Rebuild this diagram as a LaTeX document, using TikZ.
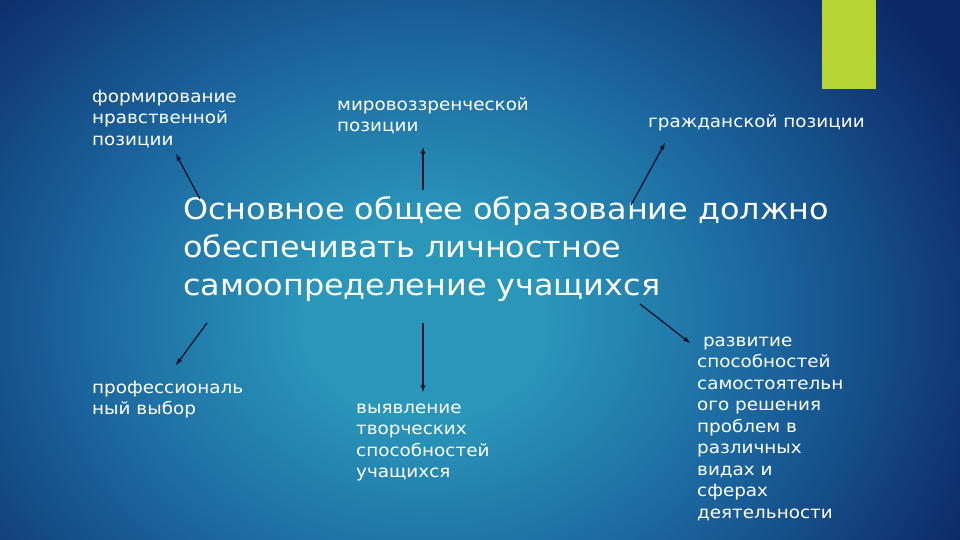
\documentclass[tikz,border=0pt]{standalone}
\usepackage{fontspec}
\setmainfont{DejaVu Sans}[FakeStretch=1.08]
\usepackage{tikz}
\usepackage{xcolor}
\usetikzlibrary{calc}
\usetikzlibrary{positioning}

\definecolor{bgin}{RGB}{42,150,186}
\definecolor{bgmid}{RGB}{28,104,160}
\definecolor{bgout}{RGB}{12,40,102}
\definecolor{barlime}{RGB}{182,212,52}
\definecolor{arrowink}{RGB}{12,20,45}
\pgfdeclareradialshading{slidebg}{\pgfpoint{0bp}{0bp}}{color(0bp)=(bgin); color(4bp)=(bgin); color(11bp)=(bgmid); color(20bp)=(bgout); color(50bp)=(bgout)}

\begin{document}
\begin{tikzpicture}[x=1pt,y=-1pt,
  lbl/.style={text=white,align=left,anchor=north west,inner sep=0pt,font=\fontsize{17}{21.5}\selectfont},
  ttl/.style={text=white,align=left,anchor=north west,inner sep=0pt,font=\fontsize{29.5}{38}\selectfont},
  arr/.style={draw=arrowink,line width=1.3pt,-latex}]
\useasboundingbox (0,0) rectangle (960,540);

% background
\begin{scope}
\clip (0,0) rectangle (960,540);
\fill[bgout] (0,0) rectangle (960,540);
\fill[shading=slidebg] (425,320) ellipse [x radius=760pt, y radius=620pt];
\end{scope}
\fill[barlime] (822,0) rectangle (876,89);

% title
\node[ttl] (title) at (183,193) {\strut Основное общее образование должно\\обеспечивать личностное\\самоопределение учащихся};

% labels
\node[lbl] (nrav) at (92,87) {\strut формирование\\нравственной\\позиции};
\node[lbl] (mir) at (337,95) {\strut мировоззренческой\\позиции};
\node[lbl] (grazh) at (648,112) {\strut гражданской позиции};
\node[lbl] (prof) at (92,378) {\strut профессиональ\\ный выбор};
\node[lbl] (tvor) at (356,398) {\strut выявление\\творческих\\способностей\\учащихся};
\node[lbl] (razv) at (697,331) {\strut\ развитие\\способностей\\самостоятельн\\ого решения\\проблем в\\различных\\видах и\\сферах\\деятельности};

% arrows
\coordinate (t1) at (200,199);
\coordinate (h1) at (176,154);
\coordinate (t2) at (423,190);
\coordinate (h2) at (423,147);
\coordinate (t3) at (631,205);
\coordinate (h3) at (665,143);
\coordinate (t4) at (207,323);
\coordinate (h4) at (176,365);
\coordinate (t5) at (423,323);
\coordinate (h5) at (423,392);
\coordinate (t6) at (640,304);
\coordinate (h6) at (690,343);
\draw[arr] (t1) -- (h1);
\draw[arr] (t2) -- (h2);
\draw[arr] (t3) -- (h3);
\draw[arr] (t4) -- (h4);
\draw[arr] (t5) -- (h5);
\draw[arr] (t6) -- (h6);
\end{tikzpicture}
\end{document}
